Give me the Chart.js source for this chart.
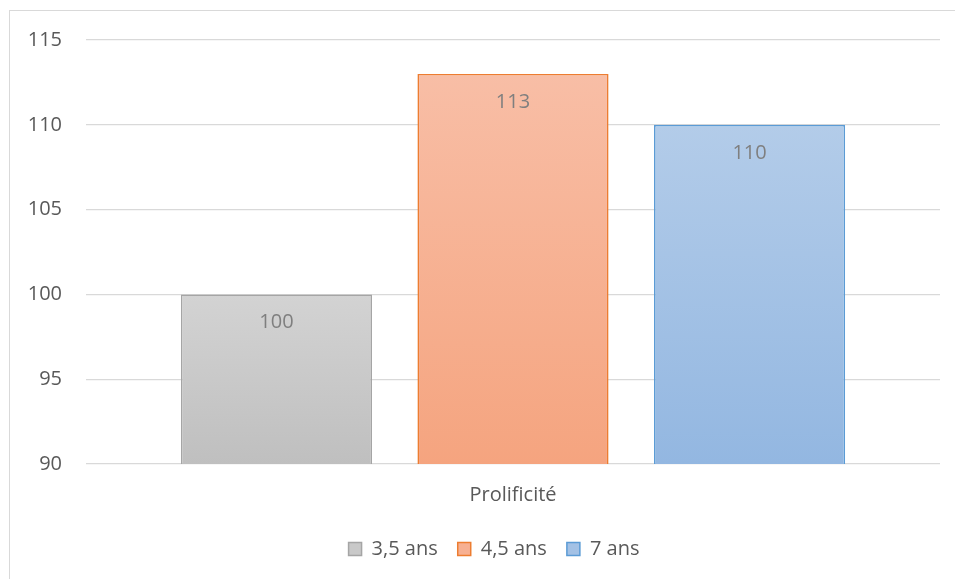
<!DOCTYPE html>
<html>
<head>
<meta charset="utf-8">
<script src="https://cdn.jsdelivr.net/npm/chart.js@4.4.0/dist/chart.umd.min.js"></script>
<style>
  body { margin: 0; background: #fff; }
  #wrap { position: relative; width: 955px; height: 579px; overflow: hidden; }
  #cadre { position: absolute; left: 9px; top: 10px; width: 1000px; height: 600px;
           border-left: 1.5px solid #d9d9d9; border-top: 1.5px solid #d9d9d9; pointer-events: none; }
  canvas { position: absolute; left: 0; top: 0; }
</style>
</head>
<body>
<div id="wrap">
  <canvas id="graphique" width="955" height="579"></canvas>
  <div id="cadre"></div>
</div>
<script>
const categories = ['Prolificité'];
const series = ['3,5 ans', '4,5 ans', '7 ans'];
const valeurs35 = [100];
const valeurs45 = [113];
const valeurs7 = [110];

const couleurs = [
  { haut: '#d3d3d3', bas: '#bfbfbf', bord: '#a5a5a5', legende: '#c9c9c9' },
  { haut: '#f8bea6', bas: '#f5a47f', bord: '#ed7d31', legende: '#f7b092' },
  { haut: '#b3cce9', bas: '#93b7e1', bord: '#5b9bd5', legende: '#a3c1e5' }
];

function degrade(i) {
  return function (context) {
    const chart = context.chart;
    const y = chart.scales.y;
    if (!chart.chartArea || !y) return couleurs[i].bas;
    const v = context.raw;
    const haut = y.getPixelForValue(v);
    const bas = y.getPixelForValue(y.min);
    const g = chart.ctx.createLinearGradient(0, haut, 0, bas);
    g.addColorStop(0, couleurs[i].haut);
    g.addColorStop(1, couleurs[i].bas);
    return g;
  };
}

const etiquettes = {
  id: 'etiquettes',
  afterDatasetsDraw(chart) {
    const ctx = chart.ctx;
    ctx.save();
    ctx.font = '20px "Open Sans"';
    ctx.fillStyle = '#7f7f7f';
    ctx.textAlign = 'center';
    ctx.textBaseline = 'middle';
    chart.data.datasets.forEach((ds, i) => {
      chart.getDatasetMeta(i).data.forEach((bar, j) => {
        ctx.fillText(ds.data[j], bar.x, bar.y + 28);
      });
    });
    ctx.restore();
  }
};

const decalageLegende = {
  id: 'decalageLegende',
  afterLayout(chart) {
    chart.legend.left += 24;
    chart.legend.right += 24;
  }
};

const ctx = document.getElementById('graphique').getContext('2d');
const grafico = new Chart(ctx, {
  type: 'bar',
  data: {
    labels: categories,
    datasets: [
      { label: series[0], data: valeurs35, backgroundColor: degrade(0), borderColor: couleurs[0].bord },
      { label: series[1], data: valeurs45, backgroundColor: degrade(1), borderColor: couleurs[1].bord },
      { label: series[2], data: valeurs7, backgroundColor: degrade(2), borderColor: couleurs[2].bord }
    ]
  },
  options: {
    responsive: false,
    animation: false,
    datasets: {
      bar: {
        borderWidth: 1.6,
        borderSkipped: false,
        categoryPercentage: 0.831,
        barPercentage: 0.808
      }
    },
    layout: { padding: { top: 40, right: 15, bottom: 10, left: 0 } },
    scales: {
      x: {
        grid: { display: false },
        border: { display: false },
        ticks: { color: '#595959', font: { family: 'Open Sans', size: 20 }, padding: 11 },
        afterFit(scale) { scale.height = 55; }
      },
      y: {
        min: 90,
        max: 115,
        ticks: { stepSize: 5, color: '#595959', font: { family: 'Open Sans', size: 20 }, padding: 24 },
        grid: { color: '#d9d9d9', lineWidth: 1.3, drawTicks: false },
        border: { display: false },
        afterFit(scale) { scale.width = 86; }
      }
    },
    plugins: {
      tooltip: { enabled: false },
      legend: {
        position: 'bottom',
        labels: {
          color: '#595959',
          font: { family: 'Open Sans', size: 20 },
          boxWidth: 13,
          boxHeight: 13,
          padding: 20,
          generateLabels(chart) {
            return chart.data.datasets.map((ds, i) => ({
              text: ds.label,
              fillStyle: couleurs[i].legende,
              strokeStyle: couleurs[i].bord,
              lineWidth: 1.5,
              fontColor: '#595959',
              hidden: false,
              datasetIndex: i
            }));
          }
        }
      }
    }
  },
  plugins: [etiquettes, decalageLegende]
});
</script>
</body>
</html>
